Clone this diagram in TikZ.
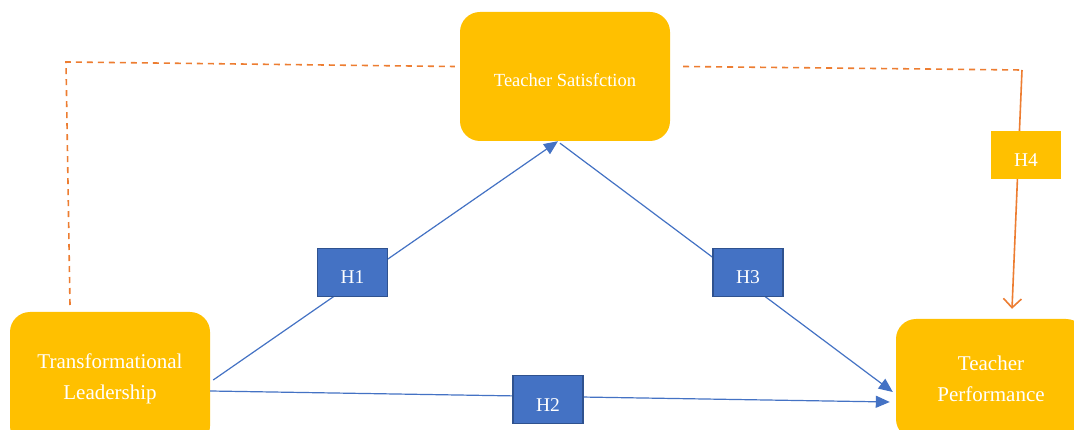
\documentclass[tikz,border=0pt]{standalone}
\usepackage{fontspec}
\setmainfont{Liberation Serif}
\usetikzlibrary{arrows.meta,calc}
\definecolor{ygold}{HTML}{FFC000}
\definecolor{hblue}{HTML}{4472C4}
\definecolor{hborder}{HTML}{2F528F}
\definecolor{lorange}{HTML}{ED7D31}
\begin{document}
\begin{tikzpicture}[x=1pt,y=-1pt,
  bigbox/.style={fill=ygold,draw=none,rounded corners=20pt,text=white,align=center,inner sep=0pt},
  hbox/.style={fill=hblue,draw=hborder,line width=1.8pt,text=white,minimum width=70pt,minimum height=48pt,inner sep=0pt,text height=23pt,text depth=0pt,font=\fontsize{19.5}{22}\selectfont},
  h4box/.style={fill=ygold,draw=none,text=white,minimum width=70pt,minimum height=48pt,inner sep=0pt,text height=23pt,text depth=0pt,font=\fontsize{19.5}{22}\selectfont},
  blueline/.style={draw=hblue,line width=1.2pt},
  bluearrow/.style={blueline,-{Triangle[length=14pt,width=12pt]}},
  orangedash/.style={draw=lorange,line width=1.6pt,dash pattern=on 6pt off 5pt},
  orangearrow/.style={draw=lorange,line width=1.6pt,-{Straight Barb[length=9pt,width=18pt,line width=1.6pt]}}]
\clip (0,0) rectangle (1074,430);
\fill[white] (0,0) rectangle (1074,430);
% main boxes
\node[bigbox,minimum width=210pt,minimum height=129pt,text height=20pt,text depth=0pt,font=\fontsize{18.5}{22}\selectfont] (TS) at (565,76.5) {Teacher Satisfction};
\node[bigbox,minimum width=200pt,minimum height=134pt,font=\fontsize{21}{31}\selectfont] (TL) at (110,379) {Transformational\\Leadership};
\node[bigbox,minimum width=190pt,minimum height=120pt,font=\fontsize{21}{31}\selectfont] (TP) at (991,379) {Teacher\\Performance};
% coordinates for dashed path corners
\coordinate (c1) at (66,62);
\coordinate (c2) at (1022,70);
% blue connectors
\draw[bluearrow] ($(TL.east)+(3,1)$) -- ($(TS.south)+(-7,0)$);
\draw[bluearrow] ($(TS.south)+(-5,2)$) -- ($(TP.west)+(-3,13)$);
\draw[bluearrow] ($(TL.east)+(0,12)$) -- ($(TP.west)+(-6,23)$);
% orange connectors
\draw[orangedash] (70,305) -- (c1) -- ($(TS.west)+(-5,-10)$);
\draw[orangedash] ($(TS.east)+(13,-10)$) -- (c2);
\draw[orangearrow] (c2) -- ($(TP.north)+(21,-10)$);
% hypothesis labels
\node[hbox] (H1) at (352.5,272.5) {H1};
\node[hbox] (H3) at (748,272.5) {H3};
\node[hbox] (H2) at (548,399.5) {H2};
\node[h4box] (H4) at (1026,155) {H4};
\end{tikzpicture}
\end{document}
